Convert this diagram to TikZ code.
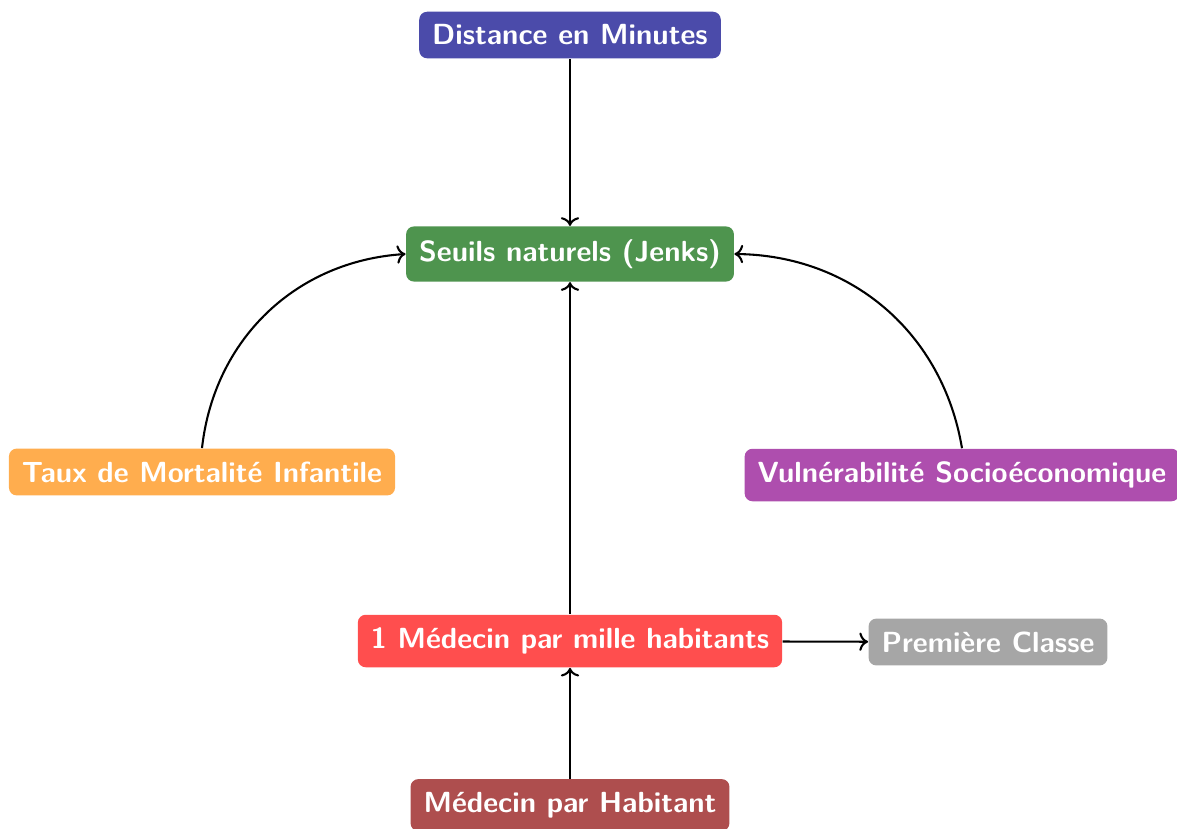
\documentclass[tikz,border=0pt]{standalone}
\usetikzlibrary{arrows.meta}
\definecolor{cblue}{RGB}{75,75,170}
\definecolor{cgreen}{RGB}{78,148,78}
\definecolor{corange}{RGB}{255,173,78}
\definecolor{cpurple}{RGB}{174,78,174}
\definecolor{cred}{RGB}{255,78,78}
\definecolor{cgray}{RGB}{166,166,166}
\definecolor{cdred}{RGB}{174,78,78}
\begin{document}
\begin{tikzpicture}[x=0.3846pt,y=-0.3846pt,
  box/.style={rounded corners=3pt, inner sep=5pt, text=white, font=\fontsize{11.2}{13.5}\selectfont\sffamily\bfseries},
  conn/.style={->, thick}]
\useasboundingbox (0,0) rectangle (1177,828);
\node[box, fill=cblue] (dist) at (570,35) {Distance en Minutes};
\node[box, fill=cgreen] (seuils) at (570,254) {Seuils naturels (Jenks)};
\node[box, fill=corange] (taux) at (202,472) {Taux de Mortalité Infantile};
\node[box, fill=cpurple] (vuln) at (962,475) {Vulnérabilité Socioéconomique};
\node[box, fill=cred] (med) at (570,641) {1 Médecin par mille habitants};
\node[box, fill=cgray] (prem) at (988,642) {Première Classe};
\node[box, fill=cdred] (mph) at (570,805) {Médecin par Habitant};
\draw[conn] (dist) -- (seuils);
\draw[conn] (med) -- (seuils);
\draw[conn] (mph) -- (med);
\draw[conn] (med) -- (prem);
\draw[conn] (taux.north) to[bend left=40] (seuils.west);
\draw[conn] (vuln.north) to[bend right=40] (seuils.east);
\end{tikzpicture}
\end{document}
